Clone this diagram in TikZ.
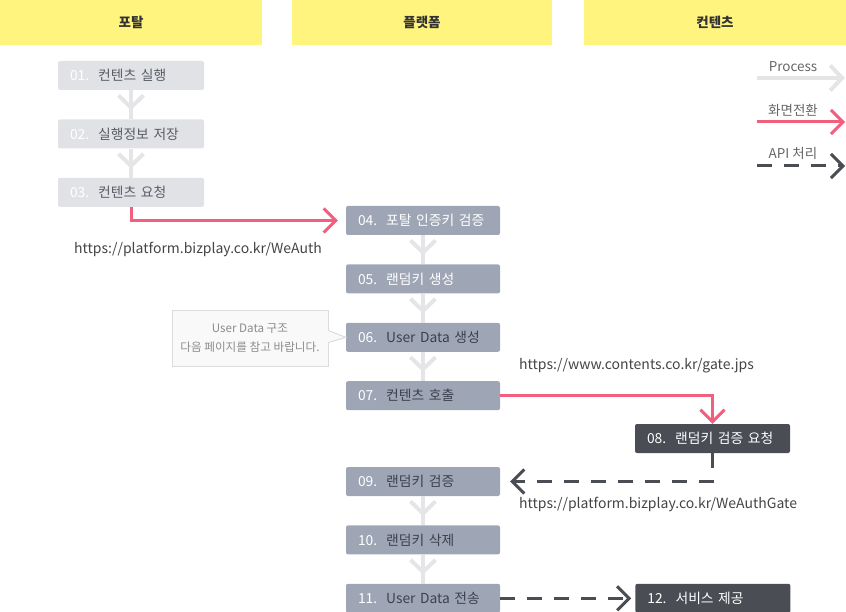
\documentclass[tikz,border=0pt]{standalone}
\usepackage{fontspec}
\setmainfont{Noto Sans CJK KR}
\usetikzlibrary{positioning,arrows.meta,calc}

\definecolor{headyellow}{RGB}{255,244,126}
\definecolor{portalgray}{RGB}{225,226,230}
\definecolor{platgray}{RGB}{158,166,182}
\definecolor{contdark}{RGB}{75,77,85}
\definecolor{pinkline}{RGB}{242,95,126}
\definecolor{procgray}{RGB}{229,229,232}
\definecolor{darktext}{RGB}{60,64,75}
\definecolor{urltext}{RGB}{68,68,68}
\definecolor{notefill}{RGB}{249,249,249}
\definecolor{notedraw}{RGB}{220,220,222}

\newcommand\stepno[1]{\textcolor{white}{#1}\hspace{9pt}}

\begin{document}
\begin{tikzpicture}[x=1pt,y=-1pt,node distance=29pt,
		head/.style={fill=headyellow,minimum height=45pt,inner sep=0pt,font=\fontsize{13.5}{15}\selectfont\bfseries,text=black!80},
		portal/.style={fill=portalgray,rounded corners=2pt,text width=122pt,inner xsep=12pt,inner ysep=0pt,minimum height=29pt,align=left,font=\fontsize{13.8}{15}\selectfont,text=darktext!85},
		plat/.style={portal,fill=platgray,text width=130pt,text=white},
		platdark/.style={plat,text=darktext},
		cont/.style={plat,fill=contdark,text width=131pt},
		url/.style={font=\fontsize{14}{16}\selectfont,text=urltext,inner sep=0pt},
		legend/.style={font=\fontsize{13.5}{15}\selectfont,text=black!60,inner sep=0pt},
		notetext/.style={font=\fontsize{11.6}{19}\selectfont,text=black!45,align=center,minimum width=156pt,minimum height=55pt,inner sep=0pt},
		proc/.style={draw=procgray,line width=4pt},
		proctip/.style={proc,-{Straight Barb[length=12pt,width=25pt]},shorten >=9pt},
		link/.style={draw=pinkline,line width=3pt,-{Straight Barb[length=12pt,width=24pt]}},
		api/.style={draw=contdark,line width=3pt,dash pattern=on 15pt off 12pt,-{Straight Barb[length=12pt,width=24pt]}}]
	\useasboundingbox (0,0) rectangle (846,612);

	% headers
	\node[head,minimum width=262pt]	(hportal)	at (131,22.5)	{포탈};
	\node[head,minimum width=260pt]	(hplat)		at (422,22.5)	{플랫폼};
	\node[head,minimum width=262pt]	(hcont)		at (715,22.5)	{컨텐츠};

	% portal
	\node[portal]				(01)	at (131,75.5)	{\stepno{01.}컨텐츠 실행};
	\node[portal,below=of 01]	(02)	{\stepno{02.}실행정보 저장};
	\node[portal,below=of 02]	(03)	{\stepno{03.}컨텐츠 요청};

	% platform
	\node[plat]					(04)	at (423,220.5)	{\stepno{04.}포탈 인증키 검증};
	\node[plat,below=of 04]		(05)	{\stepno{05.}랜덤키 생성};
	\node[platdark,below=of 05]	(06)	{\stepno{06.}User Data 생성};
	\node[platdark,below=of 06]	(07)	{\stepno{07.}컨텐츠 호출};
	\node[platdark]				(09)	at (423,481.5)	{\stepno{09.}랜덤키 검증};
	\node[platdark,below=of 09]	(10)	{\stepno{10.}랜덤키 삭제};
	\node[platdark,below=of 10]	(11)	{\stepno{11.}User Data 전송};

	% contents
	\node[cont]					(08)	at (712.5,438.5)	{\stepno{08.}랜덤키 검증 요청};
	\node[cont,right=135pt of 11]	(12)	{\stepno{12.}서비스 제공};

	\foreach \a/\b in {01/02,02/03,04/05,05/06,06/07,09/10,10/11} {
		\draw[proc] (\a) -- (\b);
		\draw[proctip] (\a) -- (\b);
	}

	\draw[link,shorten >=8pt] (03.south) |- (04.west);
	\draw[link] (07.east) -| (08.north);
	\draw[api,shorten >=10pt] (08.south) |- (09.east);
	\draw[api,shorten >=4pt] (11.east) -- (12.west);

	\node[url]				(wauth)	at (198,249)	{https://platform.bizplay.co.kr/WeAuth};
	\node[url,anchor=west]	(gate)	at (519,366)	{https://www.contents.co.kr/gate.jps};
	\node[url,anchor=west]	(wgate)	at (519,504)	{https://platform.bizplay.co.kr/WeAuthGate};

	% note
	\node[notetext,fill=notefill,draw=notedraw,line width=1pt] (note) at (250,338.5) {User Data 구조\\다음 페이지를 참고 바랍니다.};
	\fill[notefill] ($(note.east)+(-1,-8)$) -- (06.west) -- ($(note.east)+(-1,4)$) -- cycle;
	\draw[notedraw,line width=1pt] ($(note.east)+(0,-8)$) -- (06.west) -- ($(note.east)+(0,4)$);

	% legend
	\coordinate (lp0) at (757,78);		\coordinate (lp1) at (845,78);
	\coordinate (lr0) at (757,122);		\coordinate (lr1) at (845,122);
	\coordinate (la0) at (757,166);		\coordinate (la1) at (845,166);
	\draw[proc,-{Straight Barb[length=12pt,width=25pt]}] (lp0) -- (lp1);
	\draw[link] (lr0) -- (lr1);
	\draw[api] (la0) -- (la1);
	\node[legend] (lgproc)	at (793,67)		{Process};
	\node[legend] (lglink)	at (793,110)	{화면전환};
	\node[legend] (lgapi)	at (793,153)	{API 처리};
\end{tikzpicture}
\end{document}
